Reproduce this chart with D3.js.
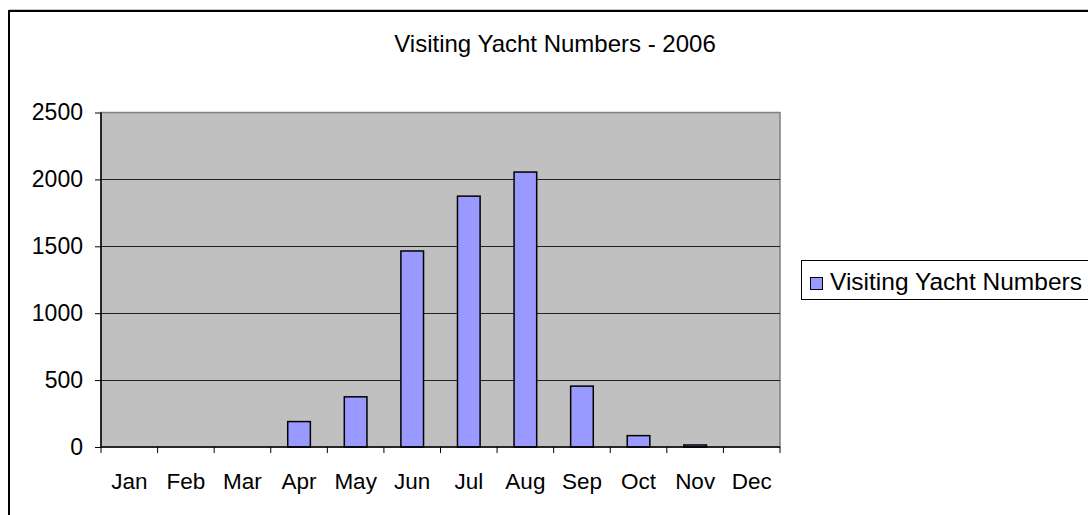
<!DOCTYPE html>
<html>
<head>
<meta charset="utf-8">
<script src="https://cdn.jsdelivr.net/npm/d3@7"></script>
<style>
  html, body { margin: 0; padding: 0; background: #fff; }
  svg { display: block; }
  text { font-family: "Liberation Sans", Arial, sans-serif; fill: #000; }
</style>
</head>
<body>
<script>
const months = ["Jan","Feb","Mar","Apr","May","Jun","Jul","Aug","Sep","Oct","Nov","Dec"];
const yachtNumbers = [0, 0, 0, 190, 375, 1465, 1875, 2055, 455, 85, 15, 0];
const yTicks = [0, 500, 1000, 1500, 2000, 2500];
const seriesName = "Visiting Yacht Numbers";
const chartTitle = "Visiting Yacht Numbers - 2006";

const W = 1088, H = 515;
const svg = d3.select("body").append("svg").attr("width", W).attr("height", H);

// outer chart border
svg.append("line").attr("x1", 9).attr("x2", W + 10).attr("y1", 9.5).attr("y2", 9.5)
  .attr("stroke", "#c8c8c8").attr("stroke-width", 1);
svg.append("rect").attr("x", 9).attr("y", 11).attr("width", 1200).attr("height", 600)
  .attr("fill", "#fff").attr("stroke", "#000").attr("stroke-width", 2);

const plot = { left: 101, right: 780, top: 112.5, bottom: 447 };

const x = d3.scaleBand().domain(months).range([plot.left, plot.right]).paddingInner(0).paddingOuter(0);
const y = d3.scaleLinear().domain([0, 2500]).range([plot.bottom, plot.top]);

// plot background
svg.append("rect").attr("x", plot.left).attr("y", plot.top)
  .attr("width", plot.right - plot.left).attr("height", plot.bottom - plot.top)
  .attr("fill", "#c0c0c0").attr("stroke", "#808080").attr("stroke-width", 1.5);

// gridlines
svg.append("g").selectAll("line").data(yTicks.filter(d => d > 0 && d < 2500)).join("line")
  .attr("x1", plot.left).attr("x2", plot.right)
  .attr("y1", d => Math.round(y(d)) + 0.5).attr("y2", d => Math.round(y(d)) + 0.5)
  .attr("stroke", "#222").attr("stroke-width", 1);

// bars
const barW = x.bandwidth() / 2.5;
svg.append("g").selectAll("rect").data(yachtNumbers.map((v, i) => ({ m: months[i], v }))).join("rect")
  .filter(d => d.v > 0)
  .attr("x", d => x(d.m) + (x.bandwidth() - barW) / 2)
  .attr("y", d => y(d.v))
  .attr("width", barW)
  .attr("height", d => plot.bottom - y(d.v))
  .attr("fill", "#9999ff").attr("stroke", "#000").attr("stroke-width", 1.5);

// y axis
const yAxis = d3.axisLeft(y).tickValues(yTicks).tickSize(6).tickPadding(12).tickFormat(d3.format("d"));
const gy = svg.append("g").attr("transform", `translate(${plot.left},0)`).call(yAxis);
gy.select(".domain").attr("stroke", "#000").attr("stroke-width", 1.5).attr("d", `M0,${plot.top}V${plot.bottom}`);
gy.selectAll(".tick line").attr("stroke", "#000");
gy.selectAll(".tick text").style("font-size", "23px").style("font-family", "'Liberation Sans', Arial, sans-serif").attr("fill", "#000");

// x axis
const xAxis = d3.axisBottom(x).tickSize(0).tickPadding(26);
const gx = svg.append("g").attr("transform", `translate(0,${plot.bottom})`).call(xAxis);
gx.select(".domain").attr("stroke", "#000").attr("stroke-width", 1.5).attr("d", `M${plot.left},0H${plot.right}`);
gx.selectAll(".tick text").style("font-size", "22.5px").style("font-family", "'Liberation Sans', Arial, sans-serif").attr("fill", "#000");
// tick marks at band boundaries
const boundaries = months.map(m => x(m)).concat([plot.right]);
gx.append("g").selectAll("line").data(boundaries).join("line")
  .attr("x1", d => d).attr("x2", d => d).attr("y1", 0).attr("y2", 6)
  .attr("stroke", "#000").attr("stroke-width", 1);

// title
svg.append("text").attr("x", 555).attr("y", 52).attr("text-anchor", "middle")
  .style("font-size", "24px").text(chartTitle);

// legend
const lg = svg.append("g");
lg.append("rect").attr("x", 801.5).attr("y", 260.5).attr("width", 400).attr("height", 39)
  .attr("fill", "#fff").attr("stroke", "#000").attr("stroke-width", 1);
lg.append("rect").attr("x", 810.5).attr("y", 277.5).attr("width", 12).attr("height", 12)
  .attr("fill", "#9999ff").attr("stroke", "#000").attr("stroke-width", 1);
lg.append("text").attr("x", 830).attr("y", 290).style("font-size", "24.5px").text(seriesName);
</script>
</body>
</html>
